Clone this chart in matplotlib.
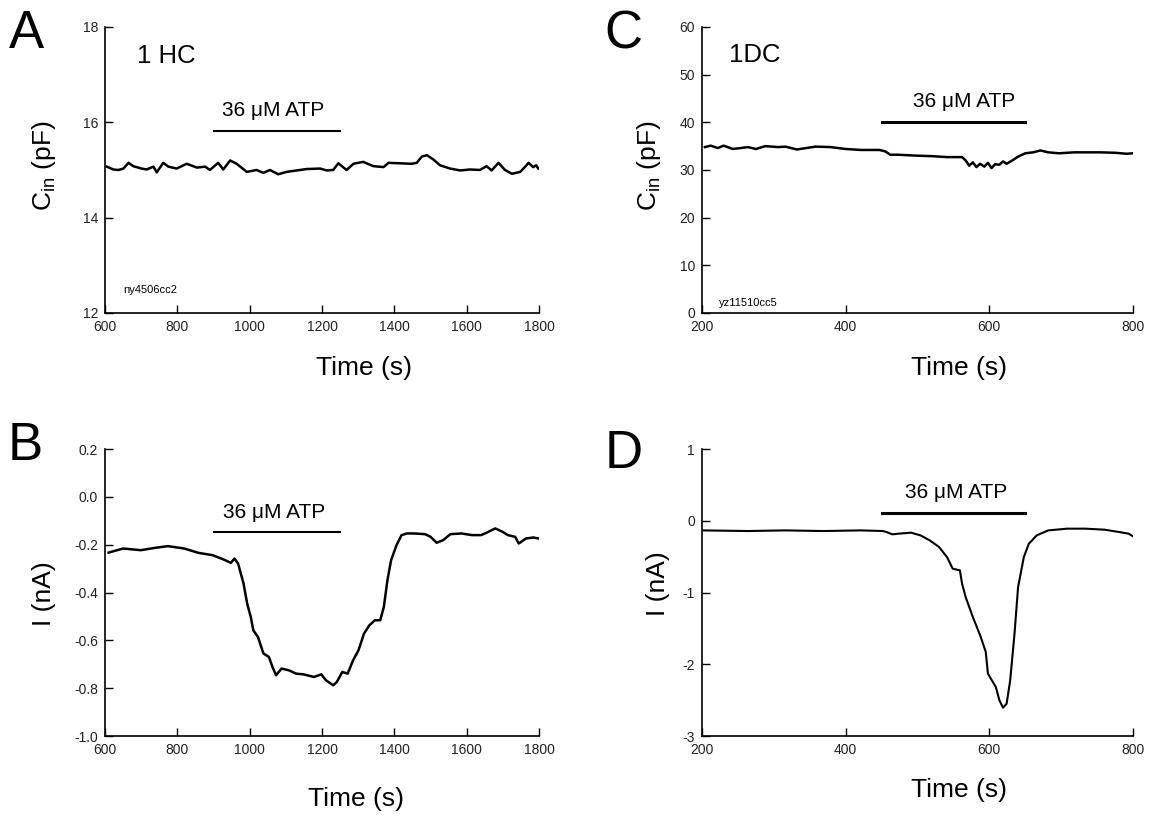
import matplotlib
matplotlib.use("Agg")
import matplotlib.pyplot as plt

plt.rcParams['font.family'] = ['Liberation Sans', 'DejaVu Sans']
plt.rcParams['mathtext.default'] = 'regular'
plt.rcParams['axes.unicode_minus'] = False

# Panel A: membrane capacitance, cell 1 HC
a_time = [605, 623, 637, 651, 665, 678, 701, 715, 734, 743, 761, 775, 798, 826, 854,
          877, 890, 913, 927, 946, 964, 992, 1019, 1038, 1056, 1079, 1102, 1130, 1158,
          1195, 1213, 1231, 1245, 1268, 1287, 1314, 1342, 1370, 1384, 1416, 1448, 1462,
          1476, 1490, 1508, 1526, 1554, 1582, 1609, 1637, 1655, 1669, 1688, 1706, 1725,
          1748, 1762, 1771, 1784, 1792, 1798]
a_cap = [15.07, 15.01, 15.00, 15.03, 15.15, 15.08, 15.03, 15.01, 15.07, 14.95, 15.15,
         15.07, 15.03, 15.13, 15.05, 15.07, 15.00, 15.15, 15.01, 15.20, 15.13, 14.96,
         15.00, 14.94, 15.00, 14.91, 14.96, 14.99, 15.02, 15.03, 14.99, 15.00, 15.14,
         15.00, 15.13, 15.17, 15.08, 15.06, 15.15, 15.14, 15.13, 15.15, 15.28, 15.31,
         15.22, 15.10, 15.03, 14.99, 15.01, 15.00, 15.08, 14.99, 15.15, 15.00, 14.92,
         14.96, 15.07, 15.15, 15.06, 15.10, 15.03]

# Panel B: current, cell 1 HC
b_time = [610, 650, 699, 739, 774, 819, 858, 898, 928, 948, 958, 968, 983, 993, 1003,
          1010, 1023, 1038, 1053, 1063, 1073, 1088, 1108, 1128, 1148, 1178, 1198, 1211,
          1231, 1241, 1256, 1271, 1286, 1301, 1316, 1331, 1346, 1361, 1371, 1381, 1391,
          1406, 1420, 1435, 1455, 1485, 1500, 1517, 1535, 1555, 1585, 1615, 1640, 1655,
          1679, 1699, 1714, 1734, 1744, 1764, 1784, 1799]
b_cur = [-0.233, -0.216, -0.223, -0.213, -0.206, -0.216, -0.234, -0.244, -0.262, -0.276,
         -0.258, -0.279, -0.362, -0.446, -0.502, -0.558, -0.586, -0.655, -0.669, -0.711,
         -0.746, -0.718, -0.725, -0.739, -0.742, -0.753, -0.742, -0.767, -0.788, -0.774,
         -0.732, -0.739, -0.683, -0.641, -0.572, -0.537, -0.516, -0.516, -0.460, -0.348,
         -0.265, -0.202, -0.160, -0.153, -0.153, -0.156, -0.167, -0.192, -0.181, -0.156,
         -0.153, -0.160, -0.160, -0.150, -0.132, -0.146, -0.160, -0.167, -0.195, -0.174,
         -0.170, -0.174]

# Panel C: membrane capacitance, cell 1DC
c_time = [204, 212, 222, 230, 243, 264, 275, 288, 306, 316, 332, 358, 379, 400, 421, 447,
          455, 462, 473, 499, 520, 541, 562, 567, 572, 577, 582, 587, 593, 598, 603, 608,
          614, 619, 624, 632, 640, 650, 661, 671, 682, 697, 718, 734, 755, 776, 791, 800]
c_cap = [34.8, 35.1, 34.6, 35.1, 34.4, 34.8, 34.4, 35.0, 34.8, 34.9, 34.3, 34.9, 34.8,
         34.4, 34.2, 34.2, 33.9, 33.2, 33.2, 33.0, 32.9, 32.7, 32.7, 32.0, 30.9, 31.6,
         30.6, 31.3, 30.7, 31.5, 30.4, 31.2, 31.1, 31.8, 31.3, 32.0, 32.8, 33.5, 33.7,
         34.1, 33.7, 33.5, 33.7, 33.7, 33.7, 33.6, 33.4, 33.5]

# Panel D: current, cell 1DC
d_time = [202, 264, 316, 369, 421, 452, 457, 465, 473, 491, 504, 517, 530, 541, 549, 559,
          562, 567, 577, 588, 595, 598, 609, 614, 619, 624, 629, 635, 640, 648, 655, 666,
          682, 708, 734, 760, 781, 794, 800]
d_cur = [-0.134, -0.143, -0.134, -0.143, -0.134, -0.143, -0.157, -0.189, -0.180, -0.166,
         -0.203, -0.273, -0.366, -0.505, -0.668, -0.691, -0.877, -1.063, -1.341, -1.620,
         -1.829, -2.131, -2.317, -2.503, -2.605, -2.549, -2.224, -1.574, -0.923, -0.505,
         -0.319, -0.203, -0.134, -0.110, -0.110, -0.124, -0.157, -0.180, -0.217]

atp_hc = (900, 1250)
atp_dc = (450, 650)

fig = plt.figure(figsize=(11.49, 8.17), dpi=100)
axA = fig.add_axes([0.0914, 0.6169, 0.3777, 0.3501])
axC = fig.add_axes([0.6110, 0.6169, 0.3751, 0.3501])
axB = fig.add_axes([0.0914, 0.0991, 0.3777, 0.3513])
axD = fig.add_axes([0.6110, 0.0991, 0.3751, 0.3513])


def style(ax):
    for side in ('top', 'right'):
        ax.spines[side].set_visible(False)
    for side in ('left', 'bottom'):
        ax.spines[side].set_linewidth(1.2)
    ax.tick_params(direction='in', length=6, width=1.0, labelsize=10, pad=5,
                   labelcolor='#222222')


axA.plot(a_time, a_cap, color='black', lw=1.8)
axA.set_xlim(600, 1800)
axA.set_ylim(12, 18)
axA.set_xticks(range(600, 1801, 200))
axA.set_yticks([12, 14, 16, 18])
axA.plot(atp_hc, [15.81, 15.81], color='black', lw=1.5)
axA.text(1065, 16.14, '36 \u03bcM ATP', ha='center', va='baseline', fontsize=15)
axA.text(689, 17.25, '1 HC', ha='left', va='baseline', fontsize=18.5)
axA.text(650, 12.42, 'ny4506cc2', ha='left', va='baseline', fontsize=8)

axB.plot(b_time, b_cur, color='black', lw=1.8)
axB.set_xlim(600, 1800)
axB.set_ylim(-1.0, 0.2)
axB.set_xticks(range(600, 1801, 200))
axB.set_yticks([-1.0, -0.8, -0.6, -0.4, -0.2, 0.0, 0.2])
axB.set_yticklabels(['-1.0', '-0.8', '-0.6', '-0.4', '-0.2', '0.0', '0.2'])
axB.plot(atp_hc, [-0.146, -0.146], color='black', lw=1.5)
axB.text(1067, -0.090, '36 \u03bcM ATP', ha='center', va='baseline', fontsize=15)

axC.plot(c_time, c_cap, color='black', lw=1.8)
axC.set_xlim(200, 800)
axC.set_ylim(0, 60)
axC.set_xticks([200, 400, 600, 800])
axC.set_yticks(range(0, 61, 10))
axC.plot(atp_dc, [40.0, 40.0], color='black', lw=2.2)
axC.text(565, 43.2, '36 \u03bcM ATP', ha='center', va='baseline', fontsize=15)
axC.text(238, 52.6, '1DC', ha='left', va='baseline', fontsize=18.5)
axC.text(223, 1.4, 'yz11510cc5', ha='left', va='baseline', fontsize=8)

axD.plot(d_time, d_cur, color='black', lw=1.5)
axD.set_xlim(200, 800)
axD.set_ylim(-3, 1)
axD.set_xticks([200, 400, 600, 800])
axD.set_yticks([-3, -2, -1, 0, 1])
axD.plot(atp_dc, [0.108, 0.108], color='black', lw=2.2)
axD.text(554, 0.322, '36 \u03bcM ATP', ha='center', va='baseline', fontsize=15)

for ax in (axA, axB, axC, axD):
    style(ax)
    ax.set_xlabel('Time (s)', fontsize=19, ha='center', va='top')

axA.set_ylabel('C$_{in}$ (pF)', fontsize=19, va='center')
axC.set_ylabel('C$_{in}$ (pF)', fontsize=19, va='center')
axB.set_ylabel('I (nA)', fontsize=19, va='center')
axD.set_ylabel('I (nA)', fontsize=19, va='center')

axA.xaxis.set_label_coords(0.597, -0.15)
axB.xaxis.set_label_coords(0.579, -0.178)
axC.xaxis.set_label_coords(0.596, -0.15)
axD.xaxis.set_label_coords(0.596, -0.147)
axA.yaxis.set_label_coords(-0.14, 0.516)
axC.yaxis.set_label_coords(-0.123, 0.516)
axB.yaxis.set_label_coords(-0.14, 0.497)
axD.yaxis.set_label_coords(-0.102, 0.53)

# panel letters
fig.text(0.008, 0.941, 'A', fontsize=38, va='baseline')
fig.text(0.526, 0.941, 'C', fontsize=38, va='baseline')
fig.text(0.007, 0.437, 'B', fontsize=38, va='baseline')
fig.text(0.526, 0.427, 'D', fontsize=38, va='baseline')

fig.savefig('out.png', dpi=100)
